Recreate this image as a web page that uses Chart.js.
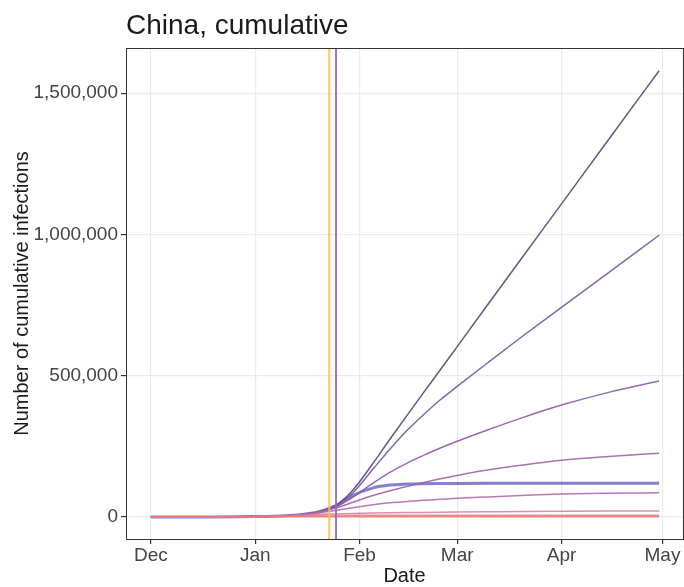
<!DOCTYPE html>
<html>
<head>
<meta charset="utf-8">
<title>China, cumulative</title>
<script src="https://cdn.jsdelivr.net/npm/chart.js@4.4.1/dist/chart.umd.min.js"></script>
<style>
  html, body { margin: 0; padding: 0; background: #ffffff; }
  canvas { display: block; }
</style>
</head>
<body>
<canvas id="chart" width="684" height="587"></canvas>
<script>
// Sample dates for every scenario curve
const dates = [
  '2019-12-01', '2019-12-15', '2020-01-01', '2020-01-10', '2020-01-15',
  '2020-01-20', '2020-01-25', '2020-01-30', '2020-02-05', '2020-02-10',
  '2020-02-15', '2020-02-20', '2020-02-25', '2020-03-01', '2020-03-10',
  '2020-03-20', '2020-04-01', '2020-04-15', '2020-04-30'
];

// Cumulative infections per scenario
const scenarioA = [0, 300, 1500, 4500, 9000, 19000, 42000, 95000, 190000, 275000, 358000, 440000, 521000, 603000, 750000, 913000, 1108000, 1336000, 1579000];
const scenarioB = [0, 300, 1500, 4500, 9000, 18800, 40500, 85000, 170000, 240000, 305000, 362000, 415000, 462000, 545000, 636000, 742000, 865000, 997000];
const scenarioC = [0, 300, 1500, 4500, 9000, 18000, 36000, 70000, 120000, 158000, 190000, 218000, 244000, 268000, 308000, 350000, 396000, 441000, 481000];
const scenarioD = [0, 300, 1500, 4500, 9000, 17500, 32000, 52000, 76000, 93000, 108000, 122000, 135000, 147000, 166000, 183000, 200500, 214000, 226000];
const scenarioE = [0, 300, 1500, 4500, 8500, 15000, 23000, 33000, 43000, 50000, 55000, 59000, 62500, 66000, 71000, 76000, 81000, 84000, 86000];
const scenarioF = [0, 300, 1500, 4000, 7000, 9500, 11000, 12500, 13800, 14700, 15500, 16200, 16800, 17300, 18200, 19200, 20200, 21000, 21500];
const scenarioG = [0, 300, 1300, 3000, 4000, 4600, 5000, 5300, 5500, 5600, 5700, 5800, 5800, 5900, 5900, 6000, 6000, 6000, 6000];
const scenarioH = [0, 200, 700, 1200, 1400, 1500, 1600, 1600, 1700, 1700, 1700, 1700, 1700, 1700, 1700, 1700, 1700, 1700, 1700];
const observedFit = [0, 300, 1500, 4500, 9000, 18500, 40000, 76000, 103000, 113000, 116500, 118000, 118600, 118900, 119000, 119000, 119000, 119000, 119000];

// Intervention dates (vertical markers)
const interventionDates = ['2020-01-23', '2020-01-25'];
const interventionColors = ['rgba(249, 190, 80, 0.75)', 'rgba(150, 100, 195, 0.9)'];

// Axis ticks
const monthTickDates = ['2019-12-01', '2020-01-01', '2020-02-01', '2020-03-01', '2020-04-01', '2020-05-01'];
const monthTickLabels = ['Dec', 'Jan', 'Feb', 'Mar', 'Apr', 'May'];
const yTicks = [0, 500000, 1000000, 1500000];

const ORIGIN = Date.parse('2019-12-01');
const dayOf = s => (Date.parse(s) - ORIGIN) / 86400000;
const toPoints = values => values.map((v, i) => ({ x: dayOf(dates[i]), y: v }));

const FONT = "'Liberation Sans', Arial, Helvetica, sans-serif";

const series = [
  { data: scenarioH, color: 'rgba(236, 120, 120, 0.85)', width: 1.8 },
  { data: scenarioG, color: 'rgba(238, 128, 128, 0.85)', width: 1.8 },
  { data: scenarioF, color: 'rgba(205, 125, 160, 0.85)', width: 1.5 },
  { data: scenarioE, color: 'rgba(176, 106, 170, 0.9)', width: 1.5 },
  { data: scenarioD, color: 'rgba(158, 98, 170, 0.9)', width: 1.5 },
  { data: scenarioC, color: 'rgba(138, 90, 165, 0.9)', width: 1.5 },
  { data: scenarioB, color: 'rgba(118, 85, 155, 0.9)', width: 1.5 },
  { data: scenarioA, color: 'rgba(88, 72, 122, 0.92)', width: 1.5 },
  { data: observedFit, color: 'rgba(90, 85, 190, 0.75)', width: 3 }
];

const panelPlugin = {
  id: 'panel',
  afterDatasetsDraw(chart) {
    const { ctx, chartArea, scales } = chart;
    ctx.save();
    interventionDates.forEach((d, i) => {
      const px = scales.x.getPixelForValue(dayOf(d));
      ctx.strokeStyle = interventionColors[i];
      ctx.lineWidth = i === 0 ? 2.4 : 2;
      ctx.beginPath();
      ctx.moveTo(px, chartArea.top);
      ctx.lineTo(px, chartArea.bottom);
      ctx.stroke();
    });
    ctx.restore();
  },
  afterDraw(chart) {
    const { ctx, chartArea } = chart;
    ctx.save();
    ctx.strokeStyle = '#333333';
    ctx.lineWidth = 1;
    ctx.strokeRect(chartArea.left + 0.5, chartArea.top + 0.5,
      chartArea.right - chartArea.left, chartArea.bottom - chartArea.top);
    // Chart title, aligned with the panel
    ctx.fillStyle = '#1a1a1a';
    ctx.font = '28px ' + FONT;
    ctx.textBaseline = 'alphabetic';
    ctx.textAlign = 'left';
    ctx.fillText('China, cumulative', chartArea.left, 34);
    ctx.restore();
  }
};

new Chart(document.getElementById('chart'), {
  type: 'line',
  data: {
    datasets: series.map(s => ({
      data: toPoints(s.data),
      borderColor: s.color,
      borderWidth: s.width,
      pointRadius: 0,
      fill: false,
      cubicInterpolationMode: 'monotone'
    }))
  },
  options: {
    responsive: false,
    animation: false,
    devicePixelRatio: 1,
    layout: { padding: { top: 48, right: 1, left: 0, bottom: 0 } },
    plugins: { legend: { display: false }, title: { display: false }, tooltip: { enabled: false } },
    scales: {
      x: {
        type: 'linear',
        min: -7.4,
        max: 158.1,
        afterBuildTicks: scale => { scale.ticks = monthTickDates.map(d => ({ value: dayOf(d) })); },
        afterFit: scale => { scale.height = 48; },
        grid: { color: '#ebebeb', lineWidth: 1.2, tickColor: '#333333', tickLength: 5, drawTicks: true },
        border: { display: false },
        ticks: {
          autoSkip: false, maxRotation: 0, padding: 0,
          color: '#444444', font: { family: FONT, size: 19 },
          callback: value => {
            const idx = monthTickDates.findIndex(d => dayOf(d) === value);
            return idx >= 0 ? monthTickLabels[idx] : '';
          }
        },
        title: { display: true, text: 'Date', color: '#1a1a1a', font: { family: FONT, size: 20, lineHeight: 1.05 }, padding: { top: 0, bottom: 0 } }
      },
      y: {
        type: 'linear',
        min: -77850,
        max: 1659600,
        afterBuildTicks: scale => { scale.ticks = yTicks.map(v => ({ value: v })); },
        afterFit: scale => { scale.width = 126; },
        grid: { color: '#ebebeb', lineWidth: 1.2, tickColor: '#333333', tickLength: 5, drawTicks: true },
        border: { display: false },
        ticks: {
          padding: 3, color: '#444444', font: { family: FONT, size: 19 },
          callback: value => value.toLocaleString('en-US')
        },
        title: { display: true, text: 'Number of cumulative infections', color: '#1a1a1a', font: { family: FONT, size: 20 }, padding: { top: 10, bottom: 0 } }
      }
    }
  },
  plugins: [panelPlugin]
});
</script>
</body>
</html>
